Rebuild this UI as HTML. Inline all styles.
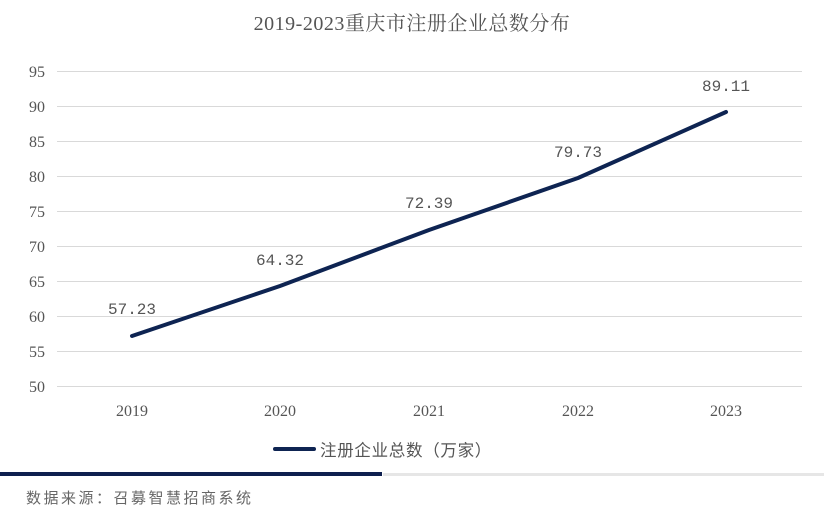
<!DOCTYPE html>
<html><head><meta charset="utf-8"><style>
body{margin:0;background:#fff;width:824px;height:530px;overflow:hidden;font-family:"Liberation Serif","Noto Serif CJK SC",serif;}
</style></head><body>
<svg width="824" height="530" xmlns="http://www.w3.org/2000/svg" style="position:absolute;left:0;top:0">
<text x="412" y="30" text-anchor="middle" font-size="20" fill="#555" font-family="Liberation Serif,Noto Serif CJK SC,serif" letter-spacing="0.5">2019-2023重庆市注册企业总数分布</text>
<g stroke="#d9d9d9" stroke-width="1">
<line x1="57" x2="802" y1="71.5" y2="71.5"/><line x1="57" x2="802" y1="106.5" y2="106.5"/><line x1="57" x2="802" y1="141.5" y2="141.5"/><line x1="57" x2="802" y1="176.5" y2="176.5"/><line x1="57" x2="802" y1="211.5" y2="211.5"/><line x1="57" x2="802" y1="246.5" y2="246.5"/><line x1="57" x2="802" y1="281.5" y2="281.5"/><line x1="57" x2="802" y1="316.5" y2="316.5"/><line x1="57" x2="802" y1="351.5" y2="351.5"/><line x1="57" x2="802" y1="386.5" y2="386.5"/>
</g>
<g font-size="16" fill="#555" text-anchor="end" font-family="Liberation Serif,serif">
<text x="45" y="77">95</text><text x="45" y="112">90</text><text x="45" y="147">85</text><text x="45" y="182">80</text><text x="45" y="217">75</text><text x="45" y="252">70</text><text x="45" y="287">65</text><text x="45" y="322">60</text><text x="45" y="357">55</text><text x="45" y="392">50</text>
</g>
<g font-size="16" fill="#555" text-anchor="middle" font-family="Liberation Serif,serif">
<text x="132" y="416">2019</text><text x="280" y="416">2020</text><text x="429" y="416">2021</text><text x="578" y="416">2022</text><text x="726" y="416">2023</text>
</g>
<polyline points="132,336 280,286 429,230 578,178 726,112" fill="none" stroke="#0e2452" stroke-width="4" stroke-linejoin="round" stroke-linecap="round"/>
<g font-size="16" fill="#555" text-anchor="middle" font-family="Liberation Mono,monospace">
<text x="132" y="314">57.23</text><text x="280" y="265">64.32</text><text x="429" y="208">72.39</text><text x="578" y="157">79.73</text><text x="726" y="91">89.11</text>
</g>
<line x1="275" x2="314" y1="449" y2="449" stroke="#0e2452" stroke-width="4" stroke-linecap="round"/>
<text x="320" y="456" font-size="16.5" fill="#555" font-family="Noto Sans CJK SC,sans-serif" letter-spacing="0.7">注册企业总数（万家）</text>
<rect x="0" y="472" width="382" height="4" fill="#0e1f4f"/>
<rect x="383" y="473" width="441" height="3" fill="#e6e6e6"/>
<text x="26" y="503" font-size="15" fill="#666" font-family="Noto Sans CJK SC,sans-serif" letter-spacing="2.5">数据来源：召募智慧招商系统</text>
</svg>
</body></html>
